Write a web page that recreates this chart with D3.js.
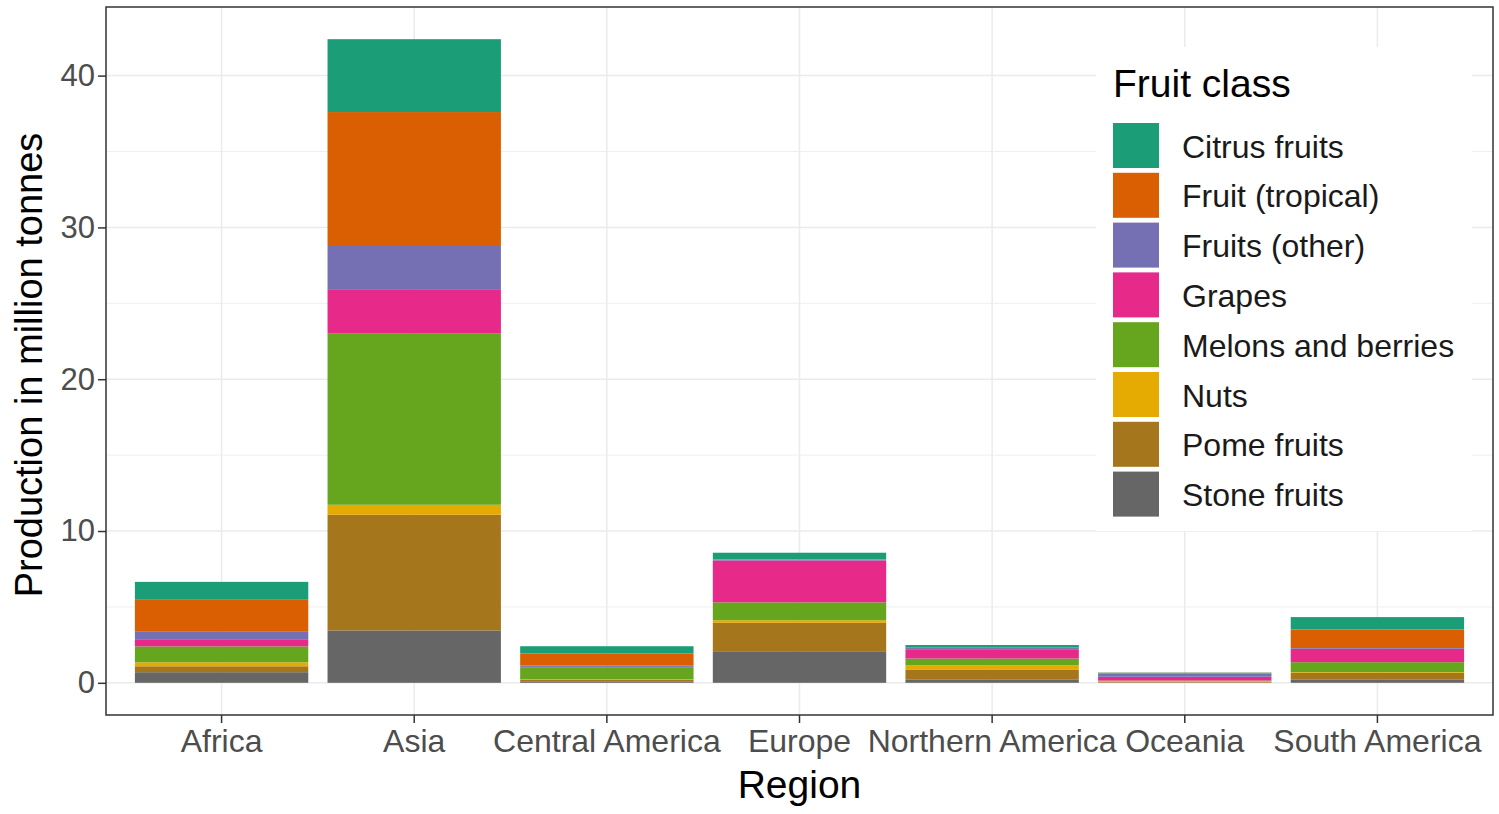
<!DOCTYPE html>
<html>
<head>
<meta charset="utf-8">
<script src="https://cdn.jsdelivr.net/npm/d3@7"></script>
<style>
	body { margin: 0; background: #fff; }
	svg { display: block; font-family: "Liberation Sans", Arial, sans-serif; }
</style>
</head>
<body>
<svg id="chart" width="1499" height="814"></svg>
<script>
'use strict';

//Regions on the x axis
var regions = ["Africa", "Asia", "Central America", "Europe", "Northern America", "Oceania", "South America"];

//Fruit classes (legend order, first one is stacked on top)
var fruitClasses = ["Citrus fruits", "Fruit (tropical)", "Fruits (other)", "Grapes", "Melons and berries", "Nuts", "Pome fruits", "Stone fruits"];

//Production in million tonnes, one value per region
var citrus   = [1.14, 4.80, 0.48, 0.44, 0.15, 0.02, 0.82];
var tropical = [2.15, 8.76, 0.80, 0.02, 0.05, 0.04, 1.22];
var other    = [0.53, 2.91, 0.08, 0.05, 0.12, 0.22, 0.05];
var grapes   = [0.43, 2.93, 0.05, 2.76, 0.57, 0.25, 0.88];
var melons   = [1.05, 11.27, 0.75, 1.18, 0.44, 0.03, 0.66];
var nuts     = [0.26, 0.66, 0.03, 0.17, 0.31, 0.05, 0.05];
var pome     = [0.39, 7.62, 0.12, 1.87, 0.65, 0.05, 0.45];
var stone    = [0.70, 3.45, 0.10, 2.08, 0.20, 0.02, 0.20];

var yTicks = [0, 10, 20, 30, 40];
var yMinor = [5, 15, 25, 35];

var seriesValues = [citrus, tropical, other, grapes, melons, nuts, pome, stone];
var palette = ["#1b9e77", "#d95f02", "#7570b3", "#e7298a", "#66a61e", "#e6ab02", "#a6761d", "#666666"];

//Build rows for d3.stack
var rows = regions.map(function(r, i) {
	var row = { region: r };
	fruitClasses.forEach(function(f, j) { row[f] = seriesValues[j][i]; });
	return row;
});

var margin = { top: 7, right: 6, bottom: 99, left: 106 };
var svg = d3.select("#chart");
var width = +svg.attr("width") - margin.left - margin.right;
var height = +svg.attr("height") - margin.top - margin.bottom;

//Stone fruits at the bottom, citrus on top
var stack = d3.stack().keys(fruitClasses.slice().reverse());
var stacked = stack(rows);
var yMax = d3.max(rows, function(d) { return d3.sum(fruitClasses, function(f) { return d[f]; }); });

var x = d3.scaleBand()
	.domain(regions)
	.range([0, width])
	.paddingInner(0.1)
	.paddingOuter(0.15);

var y = d3.scaleLinear()
	.domain([-0.05 * yMax, yMax * 1.05])
	.range([height, 0]);

var color = d3.scaleOrdinal().domain(fruitClasses).range(palette);

var g = svg.append("g").attr("transform", "translate(" + margin.left + "," + margin.top + ")");

//Grid
g.append("g").selectAll("line").data(yMinor).enter().append("line")
	.attr("x1", 0).attr("x2", width)
	.attr("y1", function(d) { return y(d); }).attr("y2", function(d) { return y(d); })
	.attr("stroke", "#ebebeb").attr("stroke-width", 0.8);

g.append("g").selectAll("line").data(yTicks).enter().append("line")
	.attr("x1", 0).attr("x2", width)
	.attr("y1", function(d) { return y(d); }).attr("y2", function(d) { return y(d); })
	.attr("stroke", "#ebebeb").attr("stroke-width", 1.5);

g.append("g").selectAll("line").data(regions).enter().append("line")
	.attr("x1", function(d) { return x(d) + x.bandwidth() / 2; })
	.attr("x2", function(d) { return x(d) + x.bandwidth() / 2; })
	.attr("y1", 0).attr("y2", height)
	.attr("stroke", "#ebebeb").attr("stroke-width", 1.5);

//Bars
g.append("g").selectAll("g").data(stacked).enter().append("g")
	.attr("fill", function(d) { return color(d.key); })
	.selectAll("rect").data(function(d) { return d; }).enter().append("rect")
	.attr("x", function(d) { return x(d.data.region); })
	.attr("width", x.bandwidth())
	.attr("y", function(d) { return y(d[1]); })
	.attr("height", function(d) { return y(d[0]) - y(d[1]); });

//Legend (inside the panel, with white background)
var legend = g.append("g").attr("transform", "translate(" + (1096 - margin.left) + "," + (47 - margin.top) + ")");

legend.append("rect")
	.attr("width", 376).attr("height", 484)
	.attr("fill", "#fff");

legend.append("text")
	.attr("x", 17).attr("y", 50)
	.attr("font-size", 39)
	.attr("fill", "#000")
	.text("Fruit class");

var keys = legend.selectAll(".key").data(fruitClasses).enter().append("g")
	.attr("class", "key")
	.attr("transform", function(d, i) { return "translate(17," + (76 + i * 49.8) + ")"; });

keys.append("rect")
	.attr("width", 46).attr("height", 45)
	.attr("fill", function(d) { return color(d); });

keys.append("text")
	.attr("x", 69).attr("y", 23)
	.attr("dy", "0.36em")
	.attr("font-size", 32)
	.attr("fill", "#1a1a1a")
	.text(function(d) { return d; });

//Panel border
g.append("rect")
	.attr("width", width).attr("height", height)
	.attr("fill", "none")
	.attr("stroke", "#333333").attr("stroke-width", 1.5);

//Axes
var yAxis = g.append("g")
	.call(d3.axisLeft(y).tickValues(yTicks).tickSize(8).tickPadding(3));
var xAxis = g.append("g")
	.attr("transform", "translate(0," + height + ")")
	.call(d3.axisBottom(x).tickSize(8).tickPadding(6));

[yAxis, xAxis].forEach(function(ax) {
	ax.select(".domain").remove();
	ax.selectAll(".tick line").attr("stroke", "#333333").attr("stroke-width", 1.5);
	ax.selectAll(".tick text")
		.attr("fill", "#4d4d4d")
		.attr("font-family", "'Liberation Sans', Arial, sans-serif");
});
yAxis.selectAll(".tick text").attr("font-size", 31);
xAxis.selectAll(".tick text").attr("font-size", 32).attr("dy", "0.71em");

//Axis titles
svg.append("text")
	.attr("x", margin.left + width / 2)
	.attr("y", 798)
	.attr("text-anchor", "middle")
	.attr("font-size", 39)
	.attr("fill", "#000")
	.text("Region");

svg.append("text")
	.attr("transform", "translate(42," + (margin.top + height / 2 + 4) + ") rotate(-90)")
	.attr("text-anchor", "middle")
	.attr("font-size", 38)
	.attr("fill", "#000")
	.text("Production in million tonnes");
</script>
</body>
</html>
